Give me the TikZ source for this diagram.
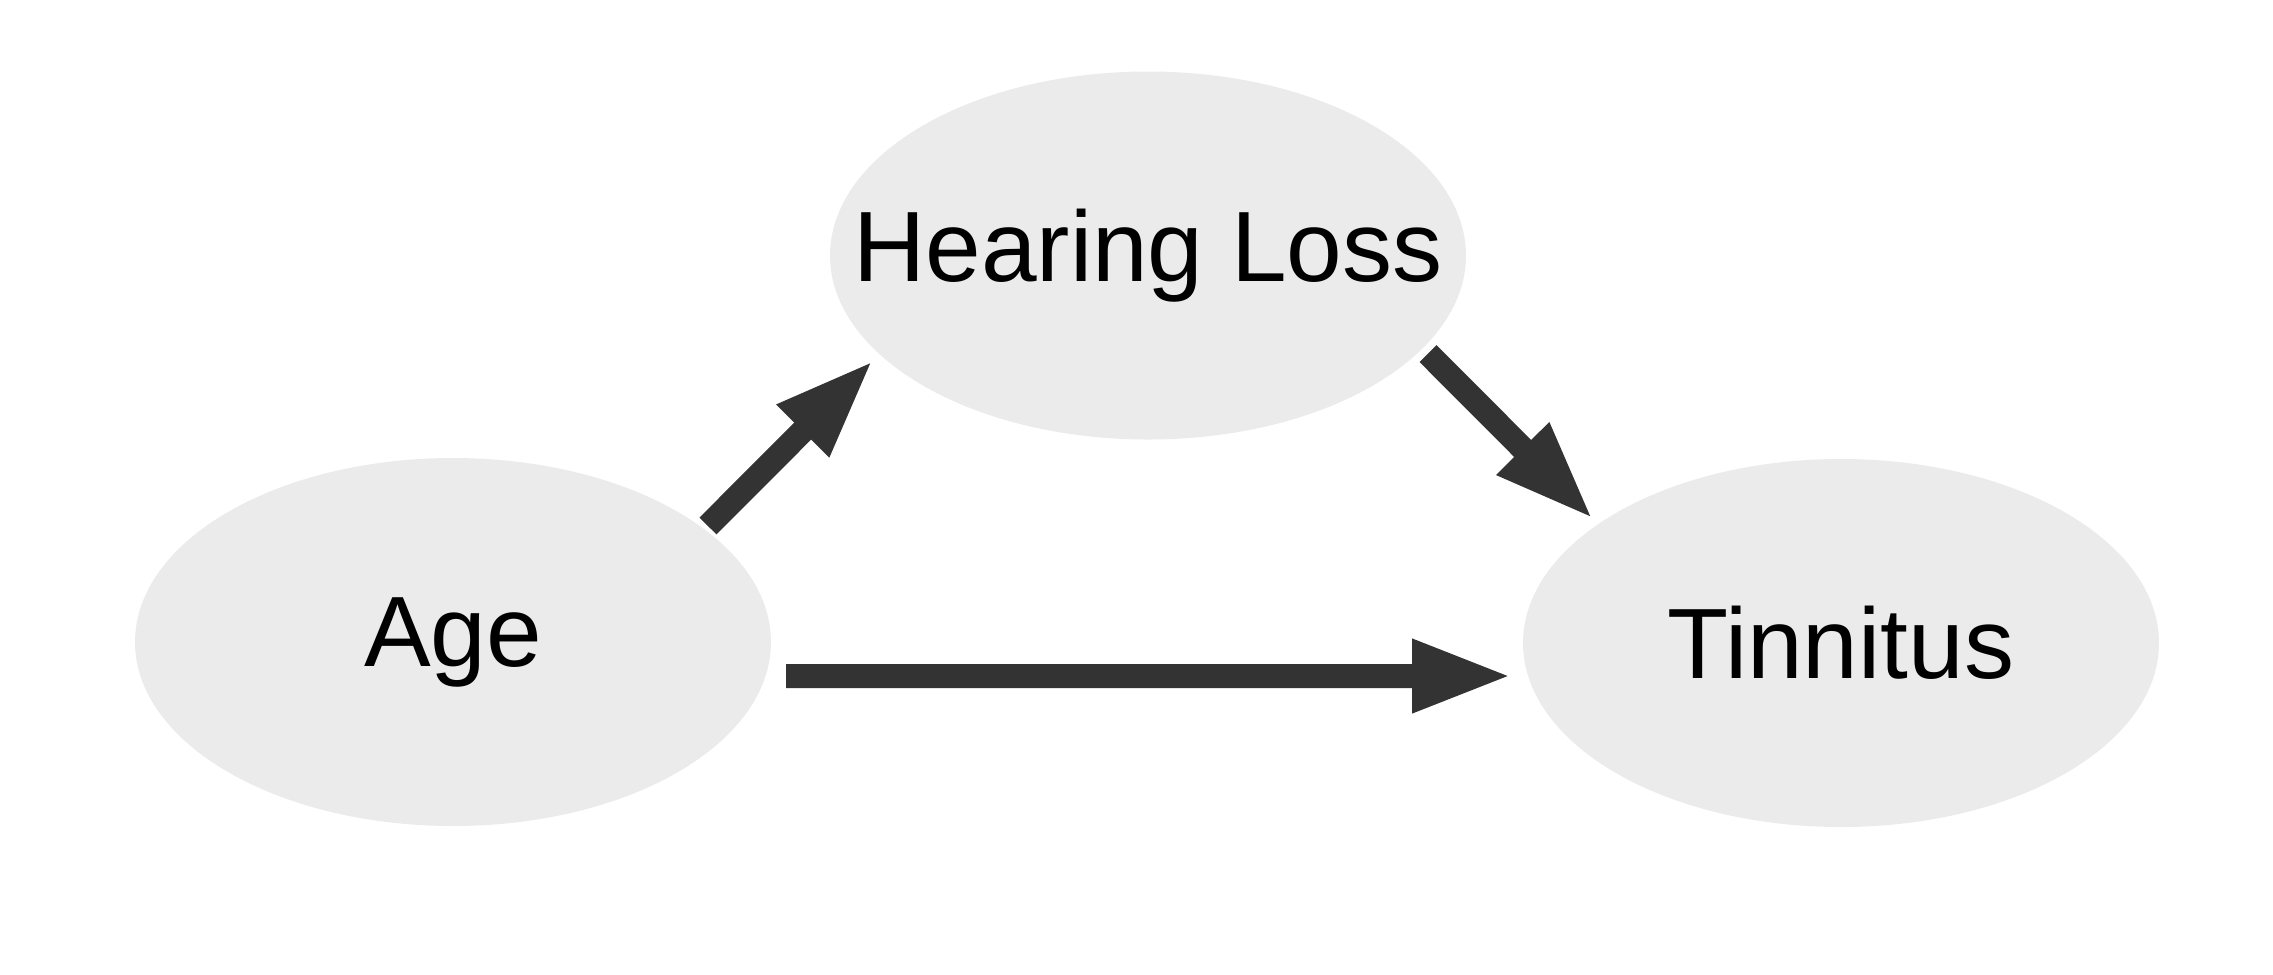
\documentclass[tikz,border=0pt]{standalone}
\usepackage{fontspec}
\setmainfont{Liberation Sans}
\usetikzlibrary{arrows.meta,positioning,shapes.geometric}
\definecolor{nodegray}{HTML}{EBEBEB}
\definecolor{edgegray}{HTML}{333333}

\begin{document}
\begin{tikzpicture}[x=0.1mm,y=-0.1mm,on grid,
		var/.style={ellipse, fill=nodegray, inner xsep=-8mm, inner ysep=0pt, minimum width=63.6mm, minimum height=36.8mm, font=\fontsize{28.45}{34}\selectfont},
		arr/.style={-{Triangle[length=10.1mm,width=6.7mm]}, line width=2.4mm, draw=edgegray}]
		
		\useasboundingbox (0,0) rectangle (2273,974);
		
		% --- Variables ---
		\node[var]          (age) at (453,642) {Age};
		\node[var]          (hl) [above right=38.65mm and 69.5mm of age] {Hearing Loss};
		\node[var]          (tin) [below right=38.75mm and 69.3mm of hl] {Tinnitus};
		
		% --- Effects ---
		\path
		([shift={(255,-116)}]age.center) edge[arr] ([shift={(-274,104)}]hl.center)
		([shift={(280,98)}]hl.center) edge[arr] ([shift={(-247,-123)}]tin.center)
		([shift={(333,34)}]age.center) edge[arr] ([shift={(-328,33)}]tin.center);
	\end{tikzpicture}
\end{document}
